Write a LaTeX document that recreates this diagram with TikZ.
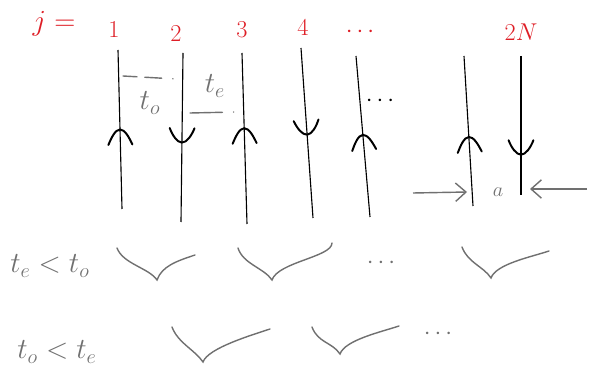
\documentclass[tikz,border=0pt]{standalone}
\usepackage{amsmath}
\usetikzlibrary{arrows.meta,decorations.markings}
\definecolor{jred}{RGB}{222,30,38}
\definecolor{pen}{RGB}{112,112,112}
\tikzset{
  wire/.style={draw=black,line width=0.8pt},
  chev/.style={draw=black,line width=1.4pt,line cap=round},
  upwire/.style={wire,postaction={decorate},decoration={markings,
    mark=at position #1 with {\draw[chev] (3.8mm,-3mm) .. controls (2mm,-2.2mm) and (0,-1.2mm) .. (0,0)
      .. controls (0,1.2mm) and (2mm,2.2mm) .. (3.8mm,3mm);}}},
  dnwire/.style={wire,postaction={decorate},decoration={markings,
    mark=at position #1 with {\draw[chev] (-3.6mm,-3.1mm) .. controls (-1.8mm,-2.4mm) and (0,-1.2mm) .. (0,0)
      .. controls (0,1.2mm) and (-1.8mm,2.4mm) .. (-3.6mm,3.1mm);}}},
  jlbl/.style={text=jred,font=\fontsize{16}{18}\selectfont,inner sep=0pt},
  glbl/.style={text=pen,font=\fontsize{20}{24}\selectfont,inner sep=0pt},
  brc/.style={draw=pen,line width=1pt,line cap=round},
  sarr/.style={draw=pen,line width=1pt,-{Straight Barb[length=2.6mm,width=4.6mm]}},
  tick/.style={draw=pen,line width=1pt,line cap=round}
}
\begin{document}
\begin{tikzpicture}[x=0.025cm,y=-0.025cm]
  \useasboundingbox (0,0) rectangle (592,373);
  % Site labels
  \node[jlbl,font=\fontsize{22}{24}\selectfont] (jeq) at (54,24) {$j=$};
  \node[jlbl] (j1) at (114,30) {$1$};
  \node[jlbl] (j2) at (176,34) {$2$};
  \node[jlbl] (j3) at (242,30) {$3$};
  \node[jlbl] (j4) at (303,28) {$4$};
  \node[jlbl] (jdots) at (362,32) {$\cdots$};
  \node[jlbl] (j2N) at (521,32) {$2N$};

  % Columns
  \foreach \i/\xt/\yt/\xb/\yb in {1/118/50/122/209, 2/183/53/181/222, 3/242/53/247/224,
      4/301/48/313/218, 5/356/56/370/217, 6/464/56/473/206, 7/521/56/521/195} {
    \coordinate (c\i t) at (\xt,\yt);
    \coordinate (c\i b) at (\xb,\yb);
  }
  \draw[upwire=0.50] (c1t) -- (c1b);
  \draw[dnwire=0.53] (c2t) -- (c2b);
  \draw[upwire=0.44] (c3t) -- (c3b);
  \draw[dnwire=0.51] (c4t) -- (c4b);
  \draw[upwire=0.49] (c5t) -- (c5b);
  \draw[upwire=0.54] (c6t) -- (c6b);
  \draw[dnwire=0.71] (c7t) -- (c7b);
  \node[font=\fontsize{16}{18}\selectfont,inner sep=0pt] (cdots) at (382,101) {$\cdots$};

  % Times between sites
  \coordinate (to1) at (123,76);
  \coordinate (to2) at (176,79);
  \draw[tick,dash pattern=on 10pt off 5.5pt on 12pt off 8pt on 0.1pt off 20pt] (to1) -- (to2);
  \node[glbl,font=\fontsize{22}{24}\selectfont] (tolbl) at (150,103) {$t_o$};
  \coordinate (te1) at (190,113);
  \coordinate (te2) at (236,112);
  \draw[tick,dash pattern=on 23pt off 8pt on 0.1pt off 20pt] (te1) -- (te2);
  \node[glbl,font=\fontsize{22}{24}\selectfont] (telbl) at (215,86) {$t_e$};

  % Spacing a
  \coordinate (aL) at (413,193);
  \coordinate (aLe) at (467,192);
  \coordinate (aR) at (587,189);
  \coordinate (aRe) at (530,189);
  \draw[sarr] (aL) -- (aLe);
  \draw[sarr] (aR) -- (aRe);
  \node[text=pen,font=\fontsize{14}{16}\selectfont,inner sep=0pt] (alen) at (498,192) {$a$};

  % Pairings
  \node[glbl] (row1) at (50,266) {$t_e<t_o$};
  \node[glbl] (row2) at (57,352) {$t_o<t_e$};
  \foreach \n/\lx/\ly/\mx/\my/\rx/\ry in {1/117/248/157/280/195/255, 3/462/247/491/278/549/251,
      4/172/327/203/362/270/329, 5/312/327/340/354/399/326} {
    \coordinate (p\n l) at (\lx,\ly);
    \coordinate (p\n m) at (\mx,\my);
    \coordinate (p\n r) at (\rx,\ry);
    \draw[brc] (p\n l) .. controls +(6,16) and +(-8,-12) .. (p\n m)
      .. controls +(5,-14) and +(-18,6) .. (p\n r);
  }
  \coordinate (p2l) at (238,248);
  \coordinate (p2m) at (272,280);
  \coordinate (p2r) at (332,243);
  \draw[brc] (p2l) .. controls +(5,16) and +(-8,-12) .. (p2m)
    .. controls +(6,-18) and +(0,14) .. (p2r);
  \node[text=pen,font=\fontsize{16}{18}\selectfont,inner sep=0pt] (r1dots) at (383,263) {$\cdots$};
  \node[text=pen,font=\fontsize{16}{18}\selectfont,inner sep=0pt] (r2dots) at (440,334) {$\cdots$};
\end{tikzpicture}
\end{document}
